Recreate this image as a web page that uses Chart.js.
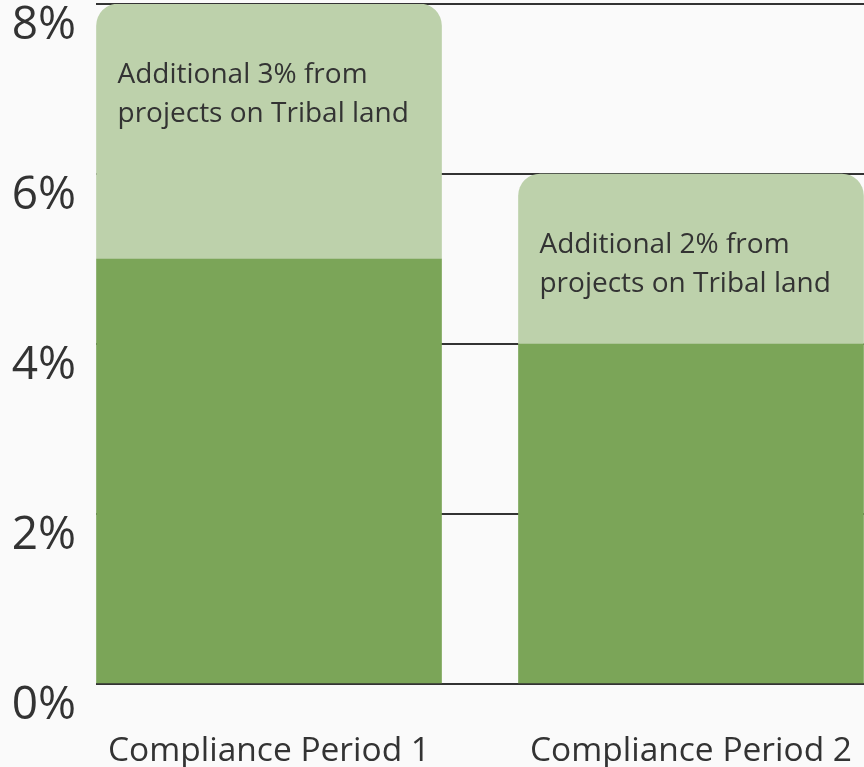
<!DOCTYPE html>
<html>
<head>
<meta charset="utf-8">
<script src="https://cdn.jsdelivr.net/npm/chart.js@4.4.1/dist/chart.umd.min.js"></script>
<style>
  html, body { margin: 0; padding: 0; background: #fafafa; }
  #wrap { width: 864px; height: 767px; position: relative; }
</style>
</head>
<body>
<div id="wrap"><canvas id="grafica"></canvas></div>
<script>
// datos
const categories = ['Compliance Period 1', 'Compliance Period 2'];
const baseValues = [5, 4];
const tribalValues = [3, 2];
const tribalNotes = [
    ['Additional 3% from', 'projects on Tribal land'],
    ['Additional 2% from', 'projects on Tribal land']
];
const yTicks = [0, 2, 4, 6, 8];

const FONT = "'Open Sans', 'Liberation Sans', sans-serif";
const TEXT = '#333333';

// writes the notes inside the light green part of each bar
const notesPlugin = {
    id: 'notes',
    afterDatasetsDraw(chart) {
        const ctx = chart.ctx;
        const meta = chart.getDatasetMeta(1);
        ctx.save();
        ctx.fillStyle = TEXT;
        ctx.font = '28px ' + FONT;
        ctx.textAlign = 'left';
        ctx.textBaseline = 'alphabetic';
        meta.data.forEach((bar, i) => {
            const left = bar.x - bar.width / 2 + 21;
            ctx.fillText(tribalNotes[i][0], left, bar.y + 79);
            ctx.fillText(tribalNotes[i][1], left, bar.y + 118);
        });
        ctx.restore();
    }
};

var ctx = document.getElementById('grafica').getContext('2d');
var myChart = new Chart(ctx, {
    type: 'bar',
    data: {
        datasets: [{
            label: 'Base',
            data: baseValues.map((v, i) => ({ x: i, y: v })),
            backgroundColor: '#7ba558',
            barThickness: 345,
            borderRadius: 0
        }, {
            label: 'Tribal land',
            data: tribalValues.map((v, i) => ({ x: i, y: v })),
            backgroundColor: '#bdd1ab',
            barThickness: 345,
            borderSkipped: false,
            borderRadius: { topLeft: 22, topRight: 22, bottomLeft: 0, bottomRight: 0 }
        }]
    },
    options: {
        responsive: true,
        maintainAspectRatio: false,
        animation: false,
        layout: { padding: { top: 4, right: 0, left: 0, bottom: 0 } },
        plugins: {
            legend: { display: false },
            tooltip: { enabled: false }
        },
        scales: {
            x: {
                type: 'linear',
                stacked: true,
                offset: false,
                min: -0.41,
                max: 1.41,
                grid: { display: false },
                border: { display: false },
                afterBuildTicks: (s) => { s.ticks = categories.map((c, i) => ({ value: i })); },
                afterFit: (s) => { s.height = 83; s.paddingLeft = 0; s.paddingRight = 0; },
                ticks: {
                    callback: (v) => categories[v],
                    color: TEXT,
                    font: { family: FONT, size: 33.5 },
                    padding: 39,
                    maxRotation: 0
                }
            },
            y: {
                stacked: true,
                min: 0,
                max: 8,
                grid: { color: '#333333', lineWidth: 2, drawTicks: false },
                border: { display: false },
                afterBuildTicks: (s) => { s.ticks = yTicks.map(v => ({ value: v })); },
                afterFit: (s) => { s.width = 96; s.paddingTop = 0; s.paddingBottom = 0; },
                ticks: {
                    callback: (v) => v + '%',
                    color: TEXT,
                    font: { family: FONT, size: 46 },
                    padding: 20,
                    labelOffset: 22
                }
            }
        }
    },
    plugins: [notesPlugin]
});
</script>
</body>
</html>
